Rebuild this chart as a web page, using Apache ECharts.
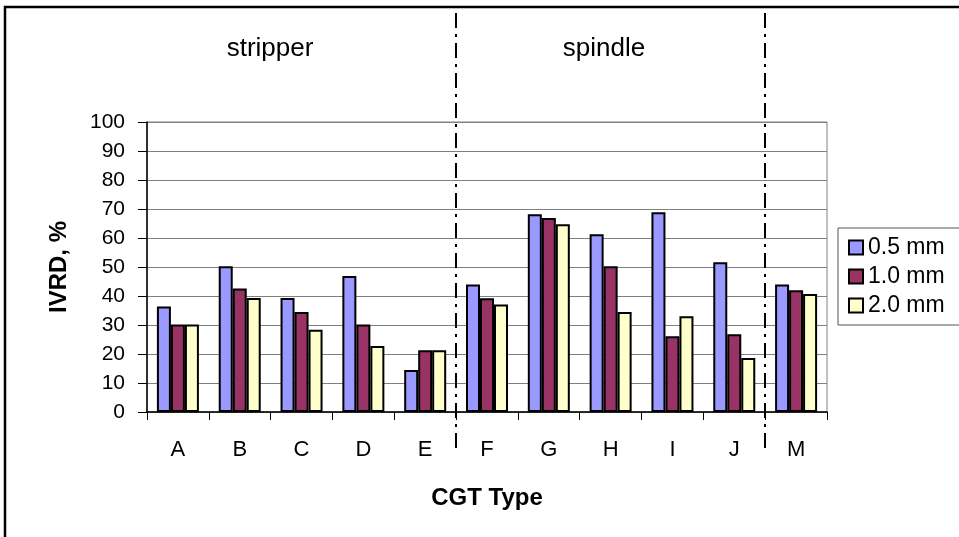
<!DOCTYPE html>
<html>
<head>
<meta charset="utf-8">
<script src="https://cdn.jsdelivr.net/npm/echarts@6/dist/echarts.min.js"></script>
<style>
html, body { margin: 0; padding: 0; background: #fff; }
#main { width: 959px; height: 537px; }
</style>
</head>
<body>
<div id="main"></div>
<script>
// data
var categories = ['A', 'B', 'C', 'D', 'E', 'F', 'G', 'H', 'I', 'J', 'M'];
var mm05 = [36.4, 50.3, 39.3, 46.9, 14.5, 44.0, 68.2, 61.3, 68.9, 51.6, 44.0];
var mm10 = [30.2, 42.6, 34.5, 30.2, 21.3, 39.2, 66.9, 50.3, 26.1, 26.8, 42.0];
var mm20 = [30.2, 39.3, 28.4, 22.8, 21.3, 37.1, 64.7, 34.5, 33.0, 18.6, 40.7];
var seriesNames = ['0.5 mm', '1.0 mm', '2.0 mm'];
var groupLabels = ['stripper', 'spindle'];
var dividerAfter = ['E', 'J'];   // dash-dot line after these categories

var font = "'Liberation Sans', Arial, sans-serif";
var colors = ['#9999FF', '#993366', '#FFFFCC'];

var myChart = echarts.init(document.getElementById('main'));

function barSeries(name, data, color) {
	return {
		name: name,
		type: 'bar',
		data: data,
		barWidth: 14,
		barGap: '0%',
		itemStyle: {
			color: color,
			borderColor: '#000',
			borderWidth: 2
		}
	};
}

var option = {
	animation: false,
	backgroundColor: '#fff',
	textStyle: { fontFamily: font },
	grid: {
		left: 147,
		right: 132,
		top: 122,
		bottom: 125,
		show: true,
		borderColor: '#808080',
		borderWidth: 1
	},
	legend: {
		orient: 'vertical',
		left: 838,
		top: 228,
		padding: [8, 20, 8, 10],
		itemWidth: 14,
		itemHeight: 14,
		itemGap: 6,
		itemTextGap: 8,
		icon: 'rect',
		borderColor: '#555',
		borderWidth: 1,
		textStyle: { fontSize: 23, color: '#000', fontFamily: font },
		data: seriesNames
	},
	xAxis: {
		type: 'category',
		data: categories,
		name: 'CGT Type',
		nameLocation: 'middle',
		nameGap: 74,
		nameTextStyle: { fontSize: 24, fontWeight: 'bold', color: '#000' },
		axisLine: { lineStyle: { color: '#000', width: 1.5 } },
		axisTick: { show: true, length: 8, alignWithLabel: false, lineStyle: { color: '#000' } },
		axisLabel: { fontSize: 22, color: '#000', margin: 27 },
		splitLine: { show: false }
	},
	yAxis: {
		type: 'value',
		min: 0,
		max: 100,
		interval: 10,
		name: 'IVRD, %',
		nameLocation: 'middle',
		nameRotate: 90,
		nameGap: 76,
		nameTextStyle: { fontSize: 24, fontWeight: 'bold', color: '#000' },
		axisLine: { show: true, lineStyle: { color: '#000', width: 1.5 } },
		axisTick: { show: true, length: 9, lineStyle: { color: '#000' } },
		axisLabel: { fontSize: 21, color: '#000', margin: 22 },
		splitLine: { lineStyle: { color: '#808080', width: 1 } }
	},
	series: [
		barSeries(seriesNames[0], mm05, colors[0]),
		barSeries(seriesNames[1], mm10, colors[1]),
		barSeries(seriesNames[2], mm20, colors[2])
	]
};
myChart.setOption(option);

// decorations: outer frame, group labels and the dash-dot dividers
var step = myChart.convertToPixel({ xAxisIndex: 0 }, 'B') - myChart.convertToPixel({ xAxisIndex: 0 }, 'A');
var graphics = [{
	type: 'rect',
	shape: { x: 5, y: 7, width: 1000, height: 600 },
	style: { fill: null, stroke: '#000', lineWidth: 2.5 },
	silent: true
}];
var labelX = [270, 604];
var each = function(arr, fn) { for (var i = 0; i < arr.length; i++) fn(i, arr[i]); };
each(groupLabels, function(i, txt) {
	graphics.push({
		type: 'text',
		x: labelX[i],
		y: 49,
		style: {
			text: txt,
			font: '26px ' + font,
			fill: '#000',
			textAlign: 'center',
			textVerticalAlign: 'middle'
		}
	});
});
each(dividerAfter, function(i, cat) {
	var x = Math.round(myChart.convertToPixel({ xAxisIndex: 0 }, cat) + step / 2);
	graphics.push({
		type: 'line',
		shape: { x1: x, y1: 13, x2: x, y2: 451 },
		style: { stroke: '#000', lineWidth: 2, lineDash: [15, 6, 3, 6] },
		silent: true
	});
});
myChart.setOption({ graphic: graphics });
</script>
</body>
</html>
